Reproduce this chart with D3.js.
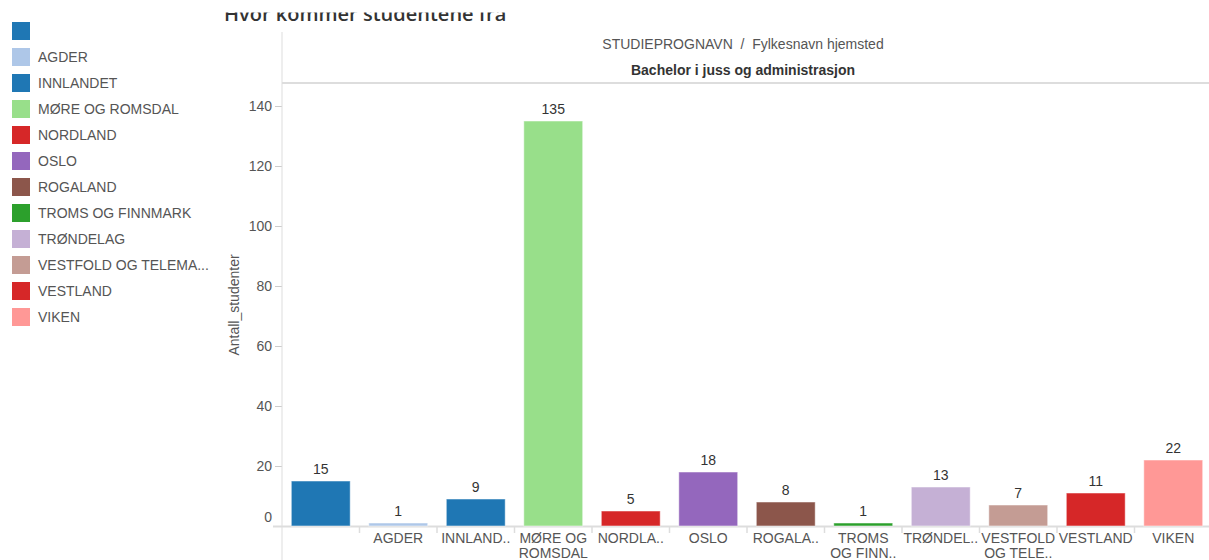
<!DOCTYPE html>
<html>
<head>
<meta charset="utf-8">
<script src="https://cdn.jsdelivr.net/npm/d3@7"></script>
<style>
  body { margin: 0; background: #fff; overflow: hidden; }
  svg { font-family: "Liberation Sans", Arial, sans-serif; }
</style>
</head>
<body>
<div id="chart"></div>
<script>
// data
const categories = ["", "AGDER", "INNLANDET", "MØRE OG ROMSDAL", "NORDLAND", "OSLO", "ROGALAND",
                    "TROMS OG FINNMARK", "TRØNDELAG", "VESTFOLD OG TELEMARK", "VESTLAND", "VIKEN"];
const legendLabels = ["", "AGDER", "INNLANDET", "MØRE OG ROMSDAL", "NORDLAND", "OSLO", "ROGALAND",
                      "TROMS OG FINNMARK", "TRØNDELAG", "VESTFOLD OG TELEMA...", "VESTLAND", "VIKEN"];
const tickLabels = [[""], ["AGDER"], ["INNLAND.."], ["MØRE OG", "ROMSDAL"], ["NORDLA.."], ["OSLO"], ["ROGALA.."],
                    ["TROMS", "OG FINN.."], ["TRØNDEL.."], ["VESTFOLD", "OG TELE.."], ["VESTLAND"], ["VIKEN"]];
const values = [15, 1, 9, 135, 5, 18, 8, 1, 13, 7, 11, 22];
const colors = ["#1f77b4", "#aec7e8", "#1f77b4", "#98df8a", "#d62728", "#9467bd", "#8c564b",
                "#2ca02c", "#c5b0d5", "#c49c94", "#d62728", "#ff9896"];
const yTicks = [0, 20, 40, 60, 80, 100, 120, 140];

const width = 1209, height = 560;
const plotLeft = 282, plotRight = 1212;
const zeroY = 526;

let svg = d3.select("#chart").append("svg")
    .attr("width", width)
    .attr("height", height);

// title, its top half is hidden in the original
svg.append("text")
    .attr("x", 224)
    .attr("y", 21)
    .style("font-family", "'Open Sans', sans-serif")
    .style("font-size", "20px")
    .style("font-weight", "600")
    .style("fill", "#333")
    .text("Hvor kommer studentene fra");
svg.append("rect")
    .attr("x", 200).attr("y", 0)
    .attr("width", 340).attr("height", 12.5)
    .style("fill", "#fff");

// legend
let legend = svg.append("g").selectAll("g")
    .data(categories)
    .enter().append("g")
    .attr("transform", function(d, i) { return "translate(12," + (22 + i * 26) + ")"; });
legend.append("rect")
    .attr("width", 18)
    .attr("height", 18)
    .style("fill", function(d, i) { return colors[i]; });
legend.append("text")
    .attr("x", 26)
    .attr("y", 14)
    .style("font-size", "14px")
    .style("fill", "#555")
    .text(function(d, i) { return legendLabels[i]; });

let x = d3.scaleBand()
    .domain(categories)
    .range([plotLeft, plotRight])
    .paddingInner(0.24)
    .paddingOuter(0.12);

let y = d3.scaleLinear()
    .domain([0, 140])
    .range([zeroY, 106]);

// header panel
svg.append("line")
    .attr("x1", plotLeft).attr("x2", width)
    .attr("y1", 83).attr("y2", 83)
    .style("stroke", "#ddd").style("stroke-width", 2);
svg.append("text")
    .attr("x", 743).attr("y", 49)
    .attr("text-anchor", "middle")
    .attr("xml:space", "preserve")
    .style("white-space", "pre")
    .style("font-size", "14px")
    .style("fill", "#555")
    .text("STUDIEPROGNAVN  /  Fylkesnavn hjemsted");
svg.append("text")
    .attr("x", 743).attr("y", 75)
    .attr("text-anchor", "middle")
    .style("font-size", "14px")
    .style("font-weight", "bold")
    .style("fill", "#333")
    .text("Bachelor i juss og administrasjon");

// y axis
let yAxis = svg.append("g")
    .attr("transform", "translate(" + plotLeft + ",0)")
    .call(d3.axisLeft(y).tickValues(yTicks).tickSize(7).tickPadding(3));
yAxis.select(".domain").remove();
yAxis.selectAll(".tick line").style("stroke", "#ccc");
yAxis.selectAll(".tick text")
    .style("font-size", "14px")
    .style("fill", "#555")
    .style("font-family", "'Liberation Sans', Arial, sans-serif");
// the zero label sits a little above the baseline in the original
yAxis.selectAll(".tick")
    .filter(function(d) { return d === 0; })
    .select("text")
    .attr("y", -9);
svg.append("line")
    .attr("x1", plotLeft).attr("x2", plotLeft)
    .attr("y1", 32).attr("y2", height)
    .style("stroke", "#ddd").style("stroke-width", 1);

svg.append("text")
    .attr("transform", "translate(239,305) rotate(-90)")
    .attr("text-anchor", "middle")
    .style("font-size", "14px")
    .style("fill", "#555")
    .text("Antall_studenter");

// x baseline and band ticks
svg.append("line")
    .attr("x1", plotLeft - 9).attr("x2", width)
    .attr("y1", zeroY + 0.5).attr("y2", zeroY + 0.5)
    .style("stroke", "#ddd").style("stroke-width", 2);
svg.append("g").selectAll("line")
    .data(categories.slice(1))
    .enter().append("line")
    .attr("x1", function(d) { return x(d) - x.step() * x.paddingInner() / 2; })
    .attr("x2", function(d) { return x(d) - x.step() * x.paddingInner() / 2; })
    .attr("y1", zeroY).attr("y2", zeroY + 7)
    .style("stroke", "#ddd").style("stroke-width", 1.5);

// bars
svg.append("g").selectAll("rect")
    .data(categories)
    .enter().append("rect")
    .attr("x", function(d) { return x(d); })
    .attr("y", function(d, i) { return y(values[i]); })
    .attr("width", x.bandwidth())
    .attr("height", function(d, i) { return zeroY - y(values[i]); })
    .style("fill", function(d, i) { return colors[i]; })
    .style("stroke", "rgba(255,255,255,0.5)");

// value labels
svg.append("g").selectAll("text")
    .data(categories)
    .enter().append("text")
    .attr("x", function(d) { return x(d) + x.bandwidth() / 2; })
    .attr("y", function(d, i) { return y(values[i]) - 7; })
    .attr("text-anchor", "middle")
    .style("font-size", "14px")
    .style("fill", "#333")
    .text(function(d, i) { return values[i]; });

// category labels
let xl = svg.append("g").selectAll("text")
    .data(categories)
    .enter().append("text")
    .attr("x", function(d) { return x(d) + x.bandwidth() / 2; })
    .attr("y", 543)
    .attr("text-anchor", "middle")
    .style("font-size", "14px")
    .style("fill", "#555");
xl.each(function(d, i) {
    let t = d3.select(this);
    tickLabels[i].forEach(function(line, j) {
        t.append("tspan")
            .attr("x", x(d) + x.bandwidth() / 2)
            .attr("dy", j === 0 ? 0 : 15)
            .text(line);
    });
});
</script>
</body>
</html>
